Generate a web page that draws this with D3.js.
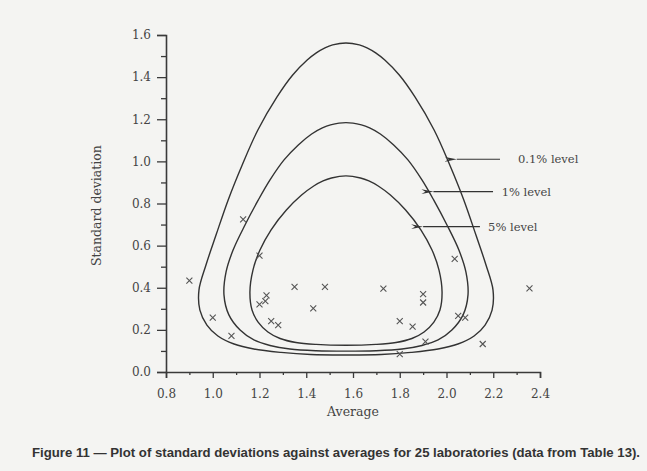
<!DOCTYPE html>
<html><head><meta charset="utf-8">
<script src="https://cdn.jsdelivr.net/npm/d3@7"></script>
<style>
html,body{margin:0;padding:0;background:#f4f4f2;}
svg{display:block;}
</style></head>
<body>
<script>
// ---- data ----
const labAverages = [1.13,1.20,0.90,1.00,1.08,1.23,1.225,1.20,1.35,1.48,1.43,1.25,1.28,
                     2.035,1.73,1.90,1.90,1.80,1.855,1.91,1.80,2.05,2.08,2.155,2.355];
const labStdDevs  = [0.725,0.552,0.434,0.258,0.172,0.364,0.337,0.321,0.404,0.404,0.302,0.242,0.223,
                     0.537,0.396,0.37,0.33,0.242,0.215,0.144,0.085,0.266,0.258,0.133,0.397];

// 0.1% level contour
const curve01 = [[1.570,1.562],[1.627,1.553],[1.660,1.539],[1.697,1.515],[1.736,1.481],[1.798,1.410],
  [1.865,1.306],[1.947,1.149],[2.014,0.983],[2.074,0.817],[2.126,0.650],[2.169,0.508],[2.199,0.389],
  [2.195,0.294],[2.165,0.223],[2.118,0.171],[2.049,0.133],[1.964,0.109],[1.848,0.093],[1.720,0.083],
  [1.570,0.081],[1.420,0.083],[1.292,0.093],[1.176,0.109],[1.091,0.133],[1.022,0.171],[0.975,0.223],
  [0.945,0.294],[0.941,0.389],[0.971,0.508],[1.014,0.650],[1.066,0.817],[1.126,0.983],[1.193,1.149],
  [1.275,1.306],[1.342,1.410],[1.404,1.481],[1.443,1.515],[1.480,1.539],[1.513,1.553]];
// 1% level contour
const curve1 = [[1.570,1.184],[1.636,1.173],[1.671,1.159],[1.717,1.130],[1.774,1.078],[1.835,1.007],
  [1.895,0.912],[1.945,0.817],[2.002,0.698],[2.053,0.579],[2.083,0.475],[2.092,0.366],[2.071,0.271],
  [2.023,0.199],[1.964,0.152],[1.895,0.126],[1.810,0.109],[1.698,0.101],[1.570,0.099],[1.442,0.101],
  [1.330,0.109],[1.245,0.126],[1.176,0.152],[1.117,0.199],[1.069,0.271],[1.048,0.366],[1.057,0.475],
  [1.087,0.579],[1.138,0.698],[1.195,0.817],[1.245,0.912],[1.305,1.007],[1.366,1.078],[1.423,1.130],
  [1.469,1.159],[1.504,1.173]];
// 5% level contour
const curve5 = [[1.570,0.931],[1.632,0.921],[1.668,0.907],[1.708,0.883],[1.760,0.840],[1.825,0.769],
  [1.891,0.674],[1.938,0.579],[1.968,0.484],[1.981,0.380],[1.972,0.294],[1.946,0.237],[1.904,0.190],
  [1.852,0.159],[1.784,0.140],[1.698,0.131],[1.570,0.127],[1.442,0.131],[1.356,0.140],[1.288,0.159],
  [1.236,0.190],[1.194,0.237],[1.168,0.294],[1.159,0.380],[1.172,0.484],[1.202,0.579],[1.249,0.674],
  [1.315,0.769],[1.380,0.840],[1.432,0.883],[1.472,0.907],[1.508,0.921]];

const levelLabels = ["0.1% level","1% level","5% level"];
const arrowTipX   = [2.044, 1.944, 1.90];
const arrowTailX  = [2.229, 2.199, 2.143];
const arrowY      = [1.01, 0.856, 0.69];
const labelX      = [2.306, 2.236, 2.178];

const xTicks = [0.8,1.0,1.2,1.4,1.6,1.8,2.0,2.2,2.4];
const yTicks = [0.0,0.2,0.4,0.6,0.8,1.0,1.2,1.4,1.6];
const xMinor = [0.9,1.1,1.3,1.5,1.7,1.9,2.1,2.3];
const yMinor = [0.1,0.3,0.5,0.7,0.9,1.1,1.3,1.5];

const xTitle = "Average", yTitle = "Standard deviation";
const caption = "Figure 11 \u2014 Plot of standard deviations against averages for 25 laboratories (data from Table 13).";

// ---- drawing ----
const W = 647, H = 471;
const svg = d3.select("body").append("svg").attr("width", W).attr("height", H);
svg.append("rect").attr("width",W).attr("height",H).attr("fill","#f4f4f2");

const x = d3.scaleLinear().domain([0.8,2.4]).range([166,540]);
const y = d3.scaleLinear().domain([0,1.6]).range([372,35]);
const ink = "#3a3a3a";
const serif = "'DejaVu Serif', 'Liberation Serif', serif";

// axes
const gx = svg.append("g").attr("transform",`translate(0,${y(0)})`)
  .call(d3.axisBottom(x).tickValues(xTicks).tickFormat(d3.format(".1f")).tickSize(6).tickPadding(11));
const gxm = svg.append("g").attr("transform",`translate(0,${y(0)})`)
  .call(d3.axisBottom(x).tickValues(xMinor).tickFormat("").tickSize(3));
const gy = svg.append("g").attr("transform",`translate(${x(0.8)},0)`)
  .call(d3.axisLeft(y).tickValues(yTicks).tickFormat(d3.format(".1f")).tickSize(9).tickPadding(6));
const gym = svg.append("g").attr("transform",`translate(${x(0.8)},0)`)
  .call(d3.axisLeft(y).tickValues(yMinor).tickFormat("").tickSize(5));
[gx,gxm,gy,gym].forEach(g=>{
  g.select(".domain").attr("stroke",ink).attr("stroke-width",1.6);
  g.selectAll(".tick line").attr("stroke",ink).attr("stroke-width",1.3);
  g.selectAll(".tick text").attr("fill","#444").attr("font-family",serif).attr("font-size",12);
});
gxm.select(".domain").remove(); gym.select(".domain").remove();

// axis titles
svg.append("text").attr("x",x(1.6)).attr("y",416).attr("text-anchor","middle")
  .attr("font-family",serif).attr("font-size",12.5).attr("fill","#444").text(xTitle);
svg.append("text").attr("transform",`translate(101,${y(0.79)}) rotate(-90)`).attr("text-anchor","middle")
  .attr("font-family",serif).attr("font-size",12.5).attr("fill","#444").text(yTitle);

// contour curves
const line = d3.line().x(d=>x(d[0])).y(d=>y(d[1])).curve(d3.curveCatmullRomClosed.alpha(0.5));
[curve01, curve1, curve5].forEach(c=>{
  svg.append("path").attr("d",line(c)).attr("fill","none").attr("stroke","#333").attr("stroke-width",1.4);
});

// arrows + labels
const defs = svg.append("defs");
defs.append("marker").attr("id","ah").attr("viewBox","0 0 12 6").attr("refX",0).attr("refY",3)
  .attr("markerWidth",12).attr("markerHeight",6).attr("markerUnits","userSpaceOnUse").attr("orient","auto-start-reverse")
  .append("path").attr("d","M12,0.6 L0,3 L12,5.4 L8,3 Z").attr("fill","#333");
levelLabels.forEach((lab,i)=>{
  svg.append("line").attr("x1",x(arrowTipX[i])).attr("x2",x(arrowTailX[i]))
    .attr("y1",y(arrowY[i])).attr("y2",y(arrowY[i])).attr("stroke","#333").attr("stroke-width",1.2)
    .attr("marker-start","url(#ah)");
  svg.append("text").attr("x",x(labelX[i])).attr("y",y(arrowY[i])+4)
    .attr("font-family",serif).attr("font-size",11.5).attr("fill","#444").text(lab);
});

// points (x marks)
const s = 3;
const pts = svg.append("g").attr("stroke","#555").attr("stroke-width",1.1);
labAverages.forEach((a,i)=>{
  const px = x(a), py = y(labStdDevs[i]);
  pts.append("path").attr("d",`M${px-s},${py-s}L${px+s},${py+s}M${px-s},${py+s}L${px+s},${py-s}`);
});

// caption
svg.append("text").attr("x",32).attr("y",457).attr("font-family","'Liberation Sans', Arial, sans-serif")
  .attr("font-weight","bold").attr("font-size",12.6).attr("fill","#333")
  .attr("textLength",608).attr("lengthAdjust","spacingAndGlyphs").text(caption);
</script>
</body></html>
